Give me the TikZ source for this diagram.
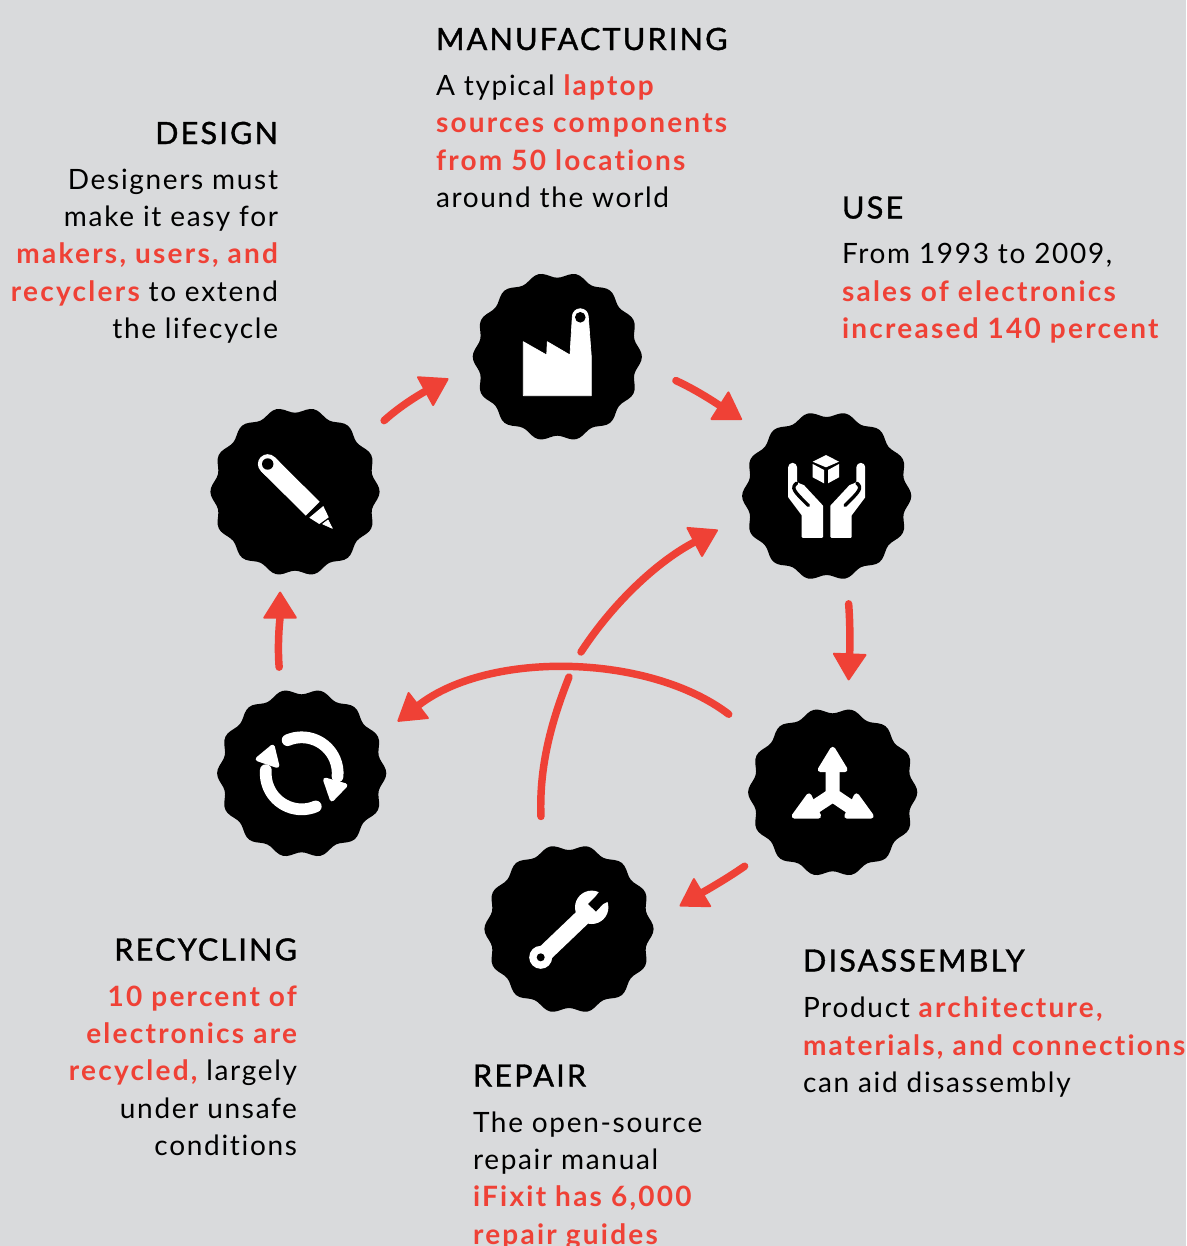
\documentclass[tikz,border=0pt]{standalone}
\usepackage{fontspec}
\usetikzlibrary{calc,arrows.meta}
\setmainfont{Lato}[LetterSpace=6,Ligatures=NoCommon,BoldFeatures={LetterSpace=8,Ligatures=NoCommon}]
\newfontfamily\headfont{Lato}[LetterSpace=7,FakeBold=1.2]
\definecolor{bgc}{HTML}{D9DADC}
\definecolor{redc}{HTML}{EF4136}
\newcommand{\hl}[1]{\textcolor{redc}{\bfseries #1}}
\tikzset{
  px/.style={x=0.75pt,y=0.75pt},
  badge/.style={circle,minimum size=126pt,inner sep=0pt,outer sep=0pt},
  bodyl/.style={inner sep=0pt,outer sep=0pt,anchor=base west,align=left,text=black,font=\fontsize{21}{28}\selectfont},
  bodyr/.style={inner sep=0pt,outer sep=0pt,anchor=base east,align=right,text=black,font=\fontsize{21}{28}\selectfont},
  headl/.style={inner sep=0pt,outer sep=0pt,anchor=base west,text=black,font=\fontsize{23}{28}\headfont},
  headr/.style={inner sep=0pt,outer sep=0pt,anchor=base east,text=black,font=\fontsize{23}{28}\headfont},
  flow/.style={draw=redc,line width=5.6pt,line cap=round,-{Triangle[length=21pt,width=26pt,line width=1.5pt,round]},redc},
  plain/.style={draw=redc,line width=5.6pt,line cap=round},
}
\begin{document}
\begin{tikzpicture}[px]
\useasboundingbox (0,-1246) rectangle (1186,0);
\fill[bgc] (0,-1246) rectangle (1186,0);
\foreach \n/\xx/\yy in {mfg/557.3/356.7,use/826.7/496,dis/832.7/792.3,rep/569/929,rec/301.7/773.3,des/295/491.7}{
  \node[badge] (\n) at (\xx,-\yy) {};
  \fill[black,shift={(\n)}] plot[domain=0:360,samples=141] (\x:{81.8+2.8*cos(14*\x)}) -- cycle;
}
% factory
\fill[white,draw=white,line width=0.5pt,line join=round] (523.3,-341.7) -- (546.7,-355) -- (547.3,-341.7) -- (570,-355) -- (572.3,-316.7) arc[start angle=180,end angle=0,radius=8] -- (591.3,-356.7) -- (591.3,-395.7) -- (523.3,-395.7) -- cycle;
\fill[black] (580.3,-317.3) circle[radius=5.3];
% hands
\foreach \s in {1,-1}{
  \begin{scope}[shift={(826.7,0)},xscale=\s]
    \fill[white,draw=white,line width=1.5pt,line join=round] (-37.5,-467.3) arc[start angle=180,end angle=0,radius=3.4] -- (-30.7,-482) -- (-28.3,-484) -- (-23.3,-486) -- (-4.7,-506) -- (-4.7,-536.8) -- (-24,-536.8) -- (-24,-515) -- (-37.5,-497) -- cycle;
    \draw[black,line width=2.5pt,line cap=round] (-30,-483) .. controls (-36,-488) and (-33,-491) .. (-18.3,-505.5);
  \end{scope}
}
\fill[white] (826,-455) -- (839,-461.7) -- (826,-467.3) -- (812.7,-461.7) -- cycle;
\fill[white] (812.7,-464) -- (824,-470) -- (824,-483.3) -- (812.7,-477.3) -- cycle;
\fill[white] (828,-470) -- (839,-464) -- (839,-477.3) -- (828,-483.3) -- cycle;
% pencil
\draw[white,line width=14.7pt,line cap=round] (267.7,-464) -- (272,-468.3);
\draw[white,line width=14.7pt] (267.7,-464) -- (312.7,-508.7);
\fill[black] (267.7,-464) circle[radius=5.7];
\fill[white] (309.3,-517.7) -- (323.3,-506) -- (328.7,-517.3) -- (319.3,-524) -- cycle;
\fill[white,draw=white,line width=0.5pt,line join=round] (322.7,-524) -- (328,-520) -- (332.3,-528.3) -- cycle;
% recycle
\draw[white,line width=8.8pt,line cap=round] ($(rec)+(113:36)$) arc[start angle=113,end angle=-5,radius=36];
\draw[white,line width=8.8pt,line cap=round] ($(rec)+(-67:36)$) arc[start angle=-67,end angle=-185,radius=36];
\fill[white,draw=white,line width=3.5pt,line join=round] (325.5,-780) -- (345,-785.5) -- (332,-799) -- cycle;
\fill[white,draw=white,line width=3.5pt,line join=round] (258,-759) -- (272.5,-747) -- (277,-765.5) -- cycle;
% split arrows
\fill[white,draw=white,line width=4pt,line join=round] (832.7,-749.5) -- (820.5,-769.5) -- (844.9,-769.5) -- cycle;
\draw[white,line width=10.5pt] (832.7,-770) -- (832.7,-795) -- (855,-810);
\draw[white,line width=10.5pt] (832.7,-795) -- (810,-810);
\fill[white,draw=white,line width=4pt,line join=round] (856.5,-796) -- (871,-816) -- (847,-816) -- cycle;
\fill[white,draw=white,line width=4pt,line join=round] (808.9,-796) -- (794.4,-816) -- (818.4,-816) -- cycle;
% wrench
\fill[white] (591.7,-907.3) circle[radius=16.7];
\draw[white,line width=12.5pt] (540.7,-957.3) -- (585,-915);
\fill[white] (540.7,-957.3) circle[radius=11.5];
\fill[black] (540.7,-957.3) circle[radius=4];
\fill[black] (595.5,-896.5) -- (588,-904) -- (596,-911.5) -- (603,-904) -- (611,-900) -- (603,-887) -- cycle;
% connectors
\draw[flow] ($(mfg)+(-11.4:121)$) .. controls +(22,-10) and +(-22,14) .. ($(use)+(138:114)$);
\draw[flow] ($(use)+(-78.5:110)$) .. controls +(2,-25) and +(1,25) .. ($(dis)+(81.9:113)$);
\draw[flow] ($(dis)+(-140:115)$) .. controls +(-20,-14) and +(20,12) .. ($(rep)+(11.7:113)$);
\draw[flow] ($(rec)+(102:108.5)$) .. controls +(-2,25) and +(0,-25) .. ($(des)+(-98.5:101)$);
\draw[flow] ($(des)+(38.6:114)$) .. controls +(20,18) and +(-22,-12) .. ($(mfg)+(191.4:111)$);
\draw[flow] ($(dis)+(143.1:130)$) .. controls (650,-654) and (490,-650) .. ($(rec)+(28.4:109)$);
\coordinate (gapA) at (569,-677);
\coordinate (gapB) at (581,-652);
\draw[plain] ($(rep)+(104:116)$) .. controls (539,-765) and (552,-720) .. (gapA);
\draw[flow] (gapB) .. controls (615,-600) and (660,-560) .. ($(use)+(197.3:114)$);
% text
\node[headr] (tdes) at (278,-144) {DESIGN};
\node[bodyr] (bdes) at (278,-338.5) {Designers must\\make it easy for\\\hl{makers, users, and}\\\hl{recyclers} to extend\\the lifecycle};
\node[headl] (tmfg) at (436,-50) {MANUFACTURING};
\node[bodyl] (bmfg) at (436,-207.5) {A typical \hl{laptop}\\\hl{sources components}\\\hl{from 50 locations}\\around the world};
\node[headl] (tuse) at (842,-218.5) {USE};
\node[bodyl] (buse) at (842,-338.5) {From 1993 to 2009,\\\hl{sales of electronics}\\\hl{increased 140 percent}};
\node[headr] (trec) at (297,-960.5) {RECYCLING};
\node[bodyr] (brec) at (297,-1155.5) {\hl{10 percent of}\\\hl{electronics are}\\\hl{recycled,} largely\\under unsafe\\conditions};
\node[headl] (tdis) at (803,-971.5) {DISASSEMBLY};
\node[bodyl] (bdis) at (803,-1092.5) {Product \hl{architecture,}\\\hl{materials, and connections}\\can aid disassembly};
\node[headl] (trep) at (473,-1086.5) {REPAIR};
\node[bodyl] (brep) at (473,-1244) {The open-source\\repair manual\\\hl{iFixit has 6,000}\\\hl{repair guides}};
\end{tikzpicture}
\end{document}
